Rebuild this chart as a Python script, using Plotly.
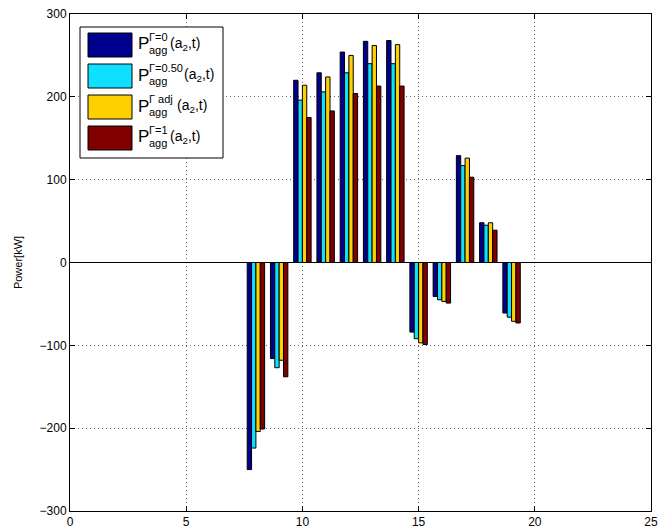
import plotly.graph_objects as go

t = [8, 9, 10, 11, 12, 13, 14, 15, 16, 17, 18, 19]
p_gamma0 = [-250, -116, 220, 229, 254, 267, 268, -84, -41, 129, 48, -61]
p_gamma050 = [-224, -127, 196, 206, 229, 240, 240, -92, -45, 117, 45, -66]
p_gamma_adj = [-204, -118, 214, 224, 250, 262, 263, -97, -47, 126, 48, -71]
p_gamma1 = [-201, -138, 175, 183, 204, 213, 213, -99, -49, 103, 39, -73]

sup_labels = ["Γ=0", "Γ=0.50", "Γ adj", "Γ=1"]
colors = ["#00008F", "#10E0FF", "#FFD000", "#800000"]
values = [p_gamma0, p_gamma050, p_gamma_adj, p_gamma1]

x_ticks = [0, 5, 10, 15, 20, 25]
y_ticks = [-300, -200, -100, 0, 100, 200, 300]

W, H = 669, 531
ML, MR, MT, MB = 70, 18, 14, 20
PW, PH = W - ML - MR, H - MT - MB


def px(xp):
    return (xp - ML) / PW


def py(yp):
    return (MT + PH - yp) / PH


fig = go.Figure()
for lab, vals, col in zip(sup_labels, values, colors):
    fig.add_trace(go.Bar(x=t, y=vals, name=lab,
                         marker=dict(color=col, line=dict(color="black", width=1))))

axis_common = dict(
    showline=True, linecolor="black", linewidth=1, mirror="ticks",
    ticks="inside", ticklen=5, tickcolor="black",
    showgrid=True, gridcolor="#666666", griddash="1px,3px", gridwidth=1,
    tickfont=dict(family="Liberation Sans, Arial", size=12, color="black"),
    automargin=False,
)

shapes = []
annotations = []
# legend box
shapes.append(dict(type="rect", xref="paper", yref="paper",
                   x0=px(80), x1=px(223), y0=py(158), y1=py(27),
                   line=dict(color="black", width=1), fillcolor="white", layer="above"))
paren_x = [168, 182, 175, 168]
for i, (lab, col) in enumerate(zip(sup_labels, colors)):
    yc = 45 + 31 * i
    shapes.append(dict(type="rect", xref="paper", yref="paper",
                       x0=px(88), x1=px(132), y0=py(yc + 12), y1=py(yc - 12),
                       line=dict(color="black", width=1), fillcolor=col, layer="above"))
    annotations.append(dict(xref="paper", yref="paper", x=px(136), y=py(yc - 1),
                            text="P", showarrow=False, xanchor="left", yanchor="middle",
                            font=dict(size=17)))
    annotations.append(dict(xref="paper", yref="paper", x=px(147), y=py(yc - 8),
                            text=lab, showarrow=False, xanchor="left", yanchor="middle",
                            font=dict(size=11)))
    annotations.append(dict(xref="paper", yref="paper", x=px(147), y=py(yc + 5),
                            text="agg", showarrow=False, xanchor="left", yanchor="middle",
                            font=dict(size=11)))
    annotations.append(dict(xref="paper", yref="paper", x=px(paren_x[i]), y=py(yc - 1),
                            text="(a<sub>2</sub>,t)", showarrow=False, xanchor="left",
                            yanchor="middle", font=dict(size=14)))

fig.update_layout(
    width=W, height=H,
    paper_bgcolor="white", plot_bgcolor="white",
    margin=dict(l=ML, r=MR, t=MT, b=MB),
    barmode="group", bargap=0.25, bargroupgap=0,
    font=dict(family="Liberation Sans, Arial", size=12, color="black"),
    showlegend=False,
    shapes=shapes, annotations=annotations,
)
fig.update_xaxes(range=[0, 25], tickvals=x_ticks, zeroline=False, **axis_common)
fig.update_yaxes(range=[-300, 300], tickvals=y_ticks, zeroline=True, zerolinecolor="black",
                 zerolinewidth=1, title=dict(text="Power[kW]", font=dict(size=11), standoff=14),
                 **axis_common)

fig.write_html("out.html", config={"displayModeBar": False},
               post_script="document.body.style.margin='0';")
